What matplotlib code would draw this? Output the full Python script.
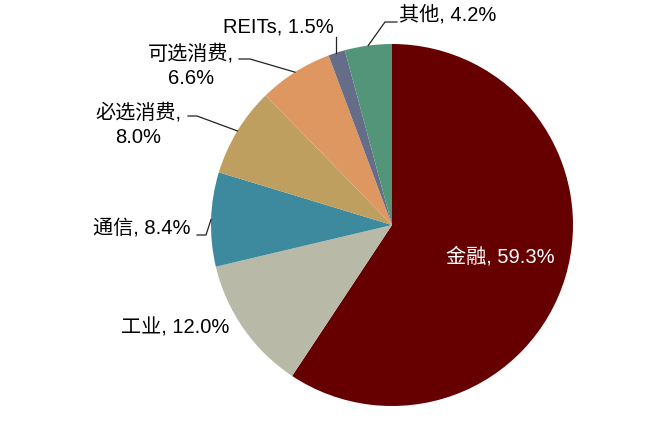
import numpy as np
import matplotlib
matplotlib.use("Agg")
import matplotlib.pyplot as plt

plt.rcParams['font.family'] = ['Liberation Sans', 'Noto Sans CJK SC', 'DejaVu Sans']

# data
sectors = ['金融', '工业', '通信', '必选消费', '可选消费', 'REITs', '其他']
shares = [59.3, 12.0, 8.4, 8.0, 6.6, 1.5, 4.2]
colors = ['#660000', '#B9B9A7', '#3D899D', '#BF9F60', '#DF9762', '#666D89', '#539578']

W, H = 672, 421
fig = plt.figure(figsize=(W / 100, H / 100), dpi=100)
ax = fig.add_axes([0, 0, 1, 1])


def px(x, y):
    # image pixel -> data coords (y flipped)
    return x, H - y


cx, cy = px(392, 225)
R = 181
wedges, _ = ax.pie(shares, colors=colors, startangle=90, counterclock=False,
                   center=(cx, cy), radius=R, frame=True,
                   wedgeprops=dict(linewidth=0))
ax.set_xlim(0, W)
ax.set_ylim(0, H)
ax.axis('off')


def edge_point(w):
    a = np.deg2rad((w.theta1 + w.theta2) / 2)
    return cx + R * np.cos(a), cy + R * np.sin(a)


fs = 14.5
labels = [f'{s}, {v:.1f}%' for s, v in zip(sectors, shares)]
labels[3] = f'{sectors[3]},\n{shares[3]:.1f}%'
labels[4] = f'{sectors[4]},\n{shares[4]:.1f}%'

# label centres in pixels
pos = [(500, 257), (175, 328), (142, 228), (138, 125), (191, 66), (278, 27), (448, 15)]
for i, (lab, (x, y)) in enumerate(zip(labels, pos)):
    ax.text(*px(x, y), lab, ha='center', va='center', fontsize=fs,
            color='white' if i == 0 else 'black', linespacing=1.35)

# leader lines: elbow point -> pie edge
elbows = {2: [(197, 235), (206, 235)], 3: [(188, 116), (197, 116)],
          4: [(239, 59), (250, 59)], 5: [(336, 37)], 6: [(397, 22), (385, 22)]}
for i, pts in elbows.items():
    xs = [px(*p)[0] for p in pts]
    ys = [px(*p)[1] for p in pts]
    ex, ey = edge_point(wedges[i])
    if i == 5:
        ex = xs[0]
    xs.append(ex)
    ys.append(ey)
    ax.plot(xs, ys, color='#222222', lw=0.9)

fig.savefig('out.png', dpi=100)
